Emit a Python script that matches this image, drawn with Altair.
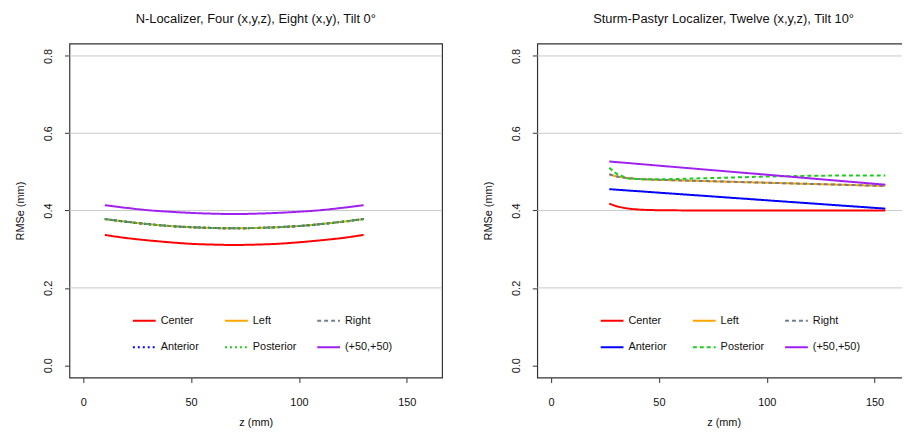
import altair as alt
import pandas as pd

FONT = "Liberation Sans"

SERIES = ["Center", "Left", "Right", "Anterior", "Posterior", "(+50,+50)"]
COLORS = ["#FF0000", "#FFA500", "#708090", "#0000FF", "#1FCC1F", "#A020F0"]
DASH_LEFT = [[1, 0], [1, 0], [4, 3], [2, 3], [2, 3], [1, 0]]
DASH_RIGHT = [[1, 0], [1, 0], [4, 3], [1, 0], [4, 3], [1, 0]]

GRID_Y = [0.2, 0.4, 0.6, 0.8]
X_TICKS = [0, 50, 100, 150]
Y_TICKS = [0.0, 0.2, 0.4, 0.6, 0.8]

TITLE_LEFT = "N-Localizer, Four (x,y,z), Eight (x,y), Tilt 0°"
TITLE_RIGHT = "Sturm-Pastyr Localizer, Twelve (x,y,z), Tilt 10°"

# Left panel (N-localizer)
Z_LEFT = [10, 20, 30, 40, 50, 60, 70, 80, 90, 100, 110, 120, 130]
L_CENTER = [0.337, 0.329, 0.323, 0.318, 0.314, 0.312, 0.311, 0.312, 0.314, 0.318, 0.323, 0.329, 0.337]
L_LEFT = [0.378, 0.371, 0.365, 0.360, 0.357, 0.355, 0.354, 0.355, 0.357, 0.360, 0.365, 0.371, 0.378]
L_RIGHT = [0.378, 0.371, 0.365, 0.360, 0.357, 0.355, 0.354, 0.355, 0.357, 0.360, 0.365, 0.371, 0.378]
L_ANTERIOR = [0.378, 0.371, 0.365, 0.360, 0.357, 0.355, 0.354, 0.355, 0.357, 0.360, 0.365, 0.371, 0.378]
L_POSTERIOR = [0.378, 0.371, 0.365, 0.360, 0.357, 0.355, 0.354, 0.355, 0.357, 0.360, 0.365, 0.371, 0.378]
L_PLUS50 = [0.414, 0.407, 0.401, 0.397, 0.394, 0.392, 0.391, 0.392, 0.394, 0.397, 0.401, 0.407, 0.414]

# Right panel (Sturm-Pastyr localizer)
Z_RIGHT = [27, 30, 33, 36, 40, 45, 50, 60, 70, 80, 90, 100, 110, 120, 130, 140, 150, 155]
R_CENTER = [0.418, 0.412, 0.408, 0.405, 0.403, 0.4015, 0.401, 0.4005, 0.4003, 0.4002, 0.4001, 0.400, 0.400, 0.400, 0.400, 0.400, 0.400, 0.400]
R_LEFT = [0.494, 0.489, 0.486, 0.484, 0.482, 0.4805, 0.4795, 0.478, 0.4765, 0.475, 0.4735, 0.472, 0.4705, 0.469, 0.4675, 0.466, 0.4645, 0.464]
R_RIGHT = [0.494, 0.489, 0.486, 0.484, 0.482, 0.4805, 0.4795, 0.478, 0.4765, 0.475, 0.4735, 0.472, 0.4705, 0.469, 0.4675, 0.466, 0.4645, 0.464]
R_ANTERIOR = [0.4554, 0.4542, 0.453, 0.4518, 0.4503, 0.4483, 0.4463, 0.4424, 0.4385, 0.4345, 0.4306, 0.4266, 0.4227, 0.4188, 0.4148, 0.4109, 0.407, 0.405]
R_POSTERIOR = [0.511, 0.497, 0.489, 0.483, 0.4815, 0.481, 0.481, 0.482, 0.4835, 0.485, 0.4865, 0.488, 0.489, 0.490, 0.4905, 0.491, 0.491, 0.491]
R_PLUS50 = [0.527, 0.5256, 0.5242, 0.5228, 0.5209, 0.5186, 0.5162, 0.5115, 0.5068, 0.5021, 0.4974, 0.4928, 0.4881, 0.4834, 0.4787, 0.474, 0.4693, 0.467]


def long_df(z, cols):
    rows = []
    for name, vals in zip(SERIES, cols):
        for zz, v in zip(z, vals):
            rows.append({"z": zz, "rmse": v, "series": name})
    return pd.DataFrame(rows)


df_left = long_df(Z_LEFT, [L_CENTER, L_LEFT, L_RIGHT, L_ANTERIOR, L_POSTERIOR, L_PLUS50])
df_right = long_df(Z_RIGHT, [R_CENTER, R_LEFT, R_RIGHT, R_ANTERIOR, R_POSTERIOR, R_PLUS50])
grid_df = pd.DataFrame({"y": GRID_Y})

W, H = 376, 337

x_scale = alt.Scale(domain=[-6.4, 166.4], nice=False, zero=False)
y_scale = alt.Scale(domain=[-0.032, 0.832], nice=False, zero=False)

x_axis = alt.Axis(values=X_TICKS, grid=False, domain=False, tickSize=5, tickColor="#333",
                  labelPadding=14, titlePadding=9, labelFontSize=11, titleFontSize=11,
                  labelFont=FONT, titleFont=FONT, titleFontWeight="normal",
                  labelColor="#111", titleColor="#111")
y_axis = alt.Axis(values=Y_TICKS, format=".1f", grid=False, domain=False, tickSize=5,
                  tickColor="#333", labelAngle=270, labelAlign="center", labelBaseline="bottom",
                  labelPadding=11, titlePadding=17, labelFontSize=11, titleFontSize=11,
                  labelFont=FONT, titleFont=FONT, titleFontWeight="normal",
                  labelColor="#111", titleColor="#111")


def panel(df, dashes, title):
    legend = alt.Legend(orient="none", legendX=63, legendY=267, columns=3, title=None,
                        direction="horizontal",
                        symbolSize=529, symbolStrokeWidth=2, symbolType="stroke",
                        labelFont=FONT, labelFontSize=11, labelColor="#111",
                        columnPadding=13, rowPadding=9, labelOffset=4, padding=0,
                        gridAlign="all")
    color = alt.Color("series:N", scale=alt.Scale(domain=SERIES, range=COLORS), legend=legend)
    dash = alt.StrokeDash("series:N", scale=alt.Scale(domain=SERIES, range=dashes), legend=legend)
    grid = alt.Chart(grid_df).mark_rule(color="#C8C8C8", strokeWidth=1).encode(
        y=alt.Y("y:Q", scale=y_scale, axis=y_axis, title="RMSe (mm)"))
    layers = [grid]
    for s in SERIES:
        layers.append(
            alt.Chart(df).transform_filter(alt.datum.series == s)
            .mark_line(strokeWidth=2, interpolate="monotone", clip=True)
            .encode(
                x=alt.X("z:Q", scale=x_scale, axis=x_axis, title="z (mm)"),
                y=alt.Y("rmse:Q", scale=y_scale, axis=y_axis, title="RMSe (mm)"),
                color=color,
                strokeDash=dash,
            )
        )
    return alt.layer(*layers).properties(
        width=W, height=H,
        title=alt.TitleParams(title, font=FONT, fontSize=13, fontWeight="normal",
                              color="#111", anchor="middle", offset=18),
    )


left = panel(df_left, DASH_LEFT, TITLE_LEFT)
right = panel(df_right, DASH_RIGHT, TITLE_RIGHT)

chart = alt.hconcat(left, right, spacing=96, bounds="flush").resolve_scale(
    color="independent", strokeDash="independent"
).configure_view(stroke="#333", strokeWidth=1.2).properties(
    padding={"left": 6, "top": 2, "right": -10, "bottom": 0}
)

chart.save("out.html", embed_options={"renderer": "svg", "actions": False})
